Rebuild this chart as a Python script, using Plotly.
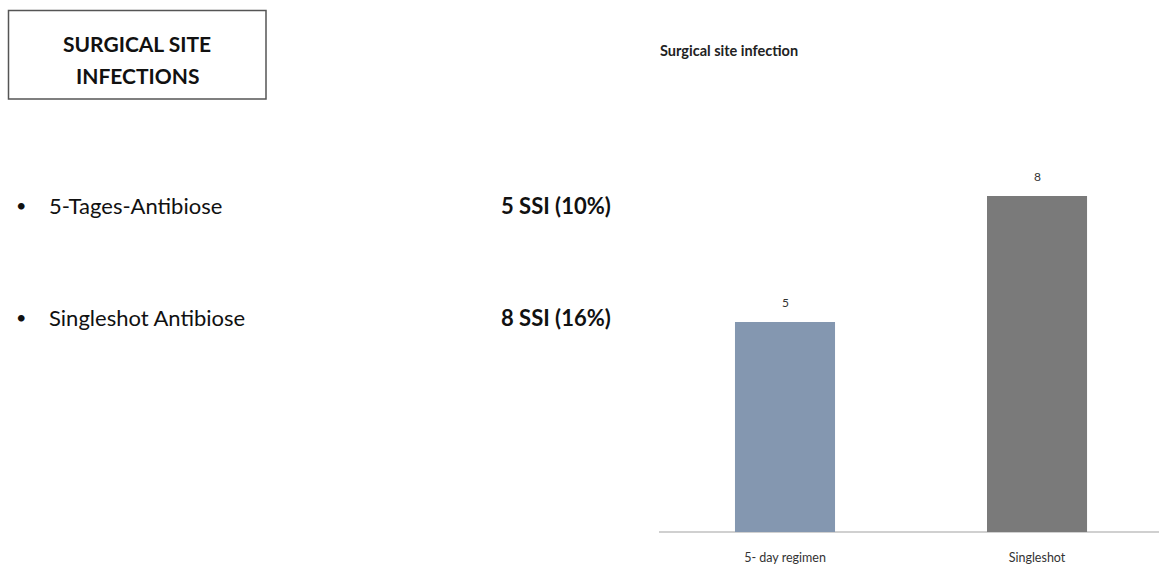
import plotly.graph_objects as go

categories = ["5- day regimen", "Singleshot"]
values = [5, 8]
bar_colors = ["#8497b0", "#7a7a7a"]

bullet_labels = ["5-Tages-Antibiose", "Singleshot Antibiose"]
bullet_results = ["5 SSI (10%)", "8 SSI (16%)"]

W, H = 1159, 565
FONT = "Lato"

def px(x):
    return x / W

def py(y):
    return 1 - y / H

fig = go.Figure()
fig.add_trace(go.Bar(
    x=categories, y=values,
    marker=dict(color=bar_colors, line=dict(width=0)),
    width=0.397,
    hoverinfo="skip",
))

annotations = [
    dict(text="<b>SURGICAL SITE</b>", x=px(137), y=py(44), xref="paper", yref="paper",
         showarrow=False, font=dict(family=FONT, size=21, color="#111111"), xanchor="center", yanchor="middle"),
    dict(text="<b>INFECTIONS</b>", x=px(137), y=py(76), xref="paper", yref="paper",
         showarrow=False, font=dict(family=FONT, size=21, color="#111111"), xanchor="center", yanchor="middle"),
    dict(text="<b>Surgical site infection</b>", x=px(658), y=py(50), xref="paper", yref="paper",
         showarrow=False, font=dict(family=FONT, size=14.5, color="#222222"), xanchor="left", yanchor="middle"),
]
for c, v in zip(categories, values):
    annotations.append(dict(text=str(v), x=c, y=v, xref="x", yref="y", showarrow=False,
                            yanchor="bottom", yshift=10,
                            font=dict(family=FONT, size=12, color="#333333")))
for i, (lab, res) in enumerate(zip(bullet_labels, bullet_results)):
    yy = 205 + i * 112
    annotations.append(dict(text="•", x=px(21), y=py(yy), xref="paper", yref="paper", showarrow=False,
                            font=dict(family=FONT, size=18, color="#111111"), xanchor="center", yanchor="middle"))
    annotations.append(dict(text=lab, x=px(47), y=py(yy), xref="paper", yref="paper", showarrow=False,
                            font=dict(family=FONT, size=22, color="#111111"), xanchor="left", yanchor="middle"))
    annotations.append(dict(text="<b>" + res + "</b>", x=px(499), y=py(yy), xref="paper", yref="paper", showarrow=False,
                            font=dict(family=FONT, size=22, color="#111111"), xanchor="left", yanchor="middle"))

fig.update_layout(
    width=W, height=H,
    margin=dict(l=0, r=0, t=0, b=0),
    paper_bgcolor="white", plot_bgcolor="white",
    showlegend=False,
    annotations=annotations,
    shapes=[dict(type="rect", xref="paper", yref="paper",
                 x0=px(8.5), x1=px(266), y0=py(99), y1=py(10.5),
                 line=dict(color="#555555", width=1.5), fillcolor="rgba(0,0,0,0)")],
    xaxis=dict(domain=[px(659), 1], range=[-0.5, 1.484], showgrid=False, zeroline=False,
               showline=False, ticks="", ticklabelstandoff=16,
               tickfont=dict(family=FONT, size=12.5, color="#333333")),
    yaxis=dict(domain=[py(532), py(160)], range=[0, (532 - 160) / 42], showgrid=False,
               zeroline=True, zerolinecolor="#d0d0d0", zerolinewidth=1.5,
               showticklabels=False, showline=False, ticks=""),
)

fig.write_html("out.html")
